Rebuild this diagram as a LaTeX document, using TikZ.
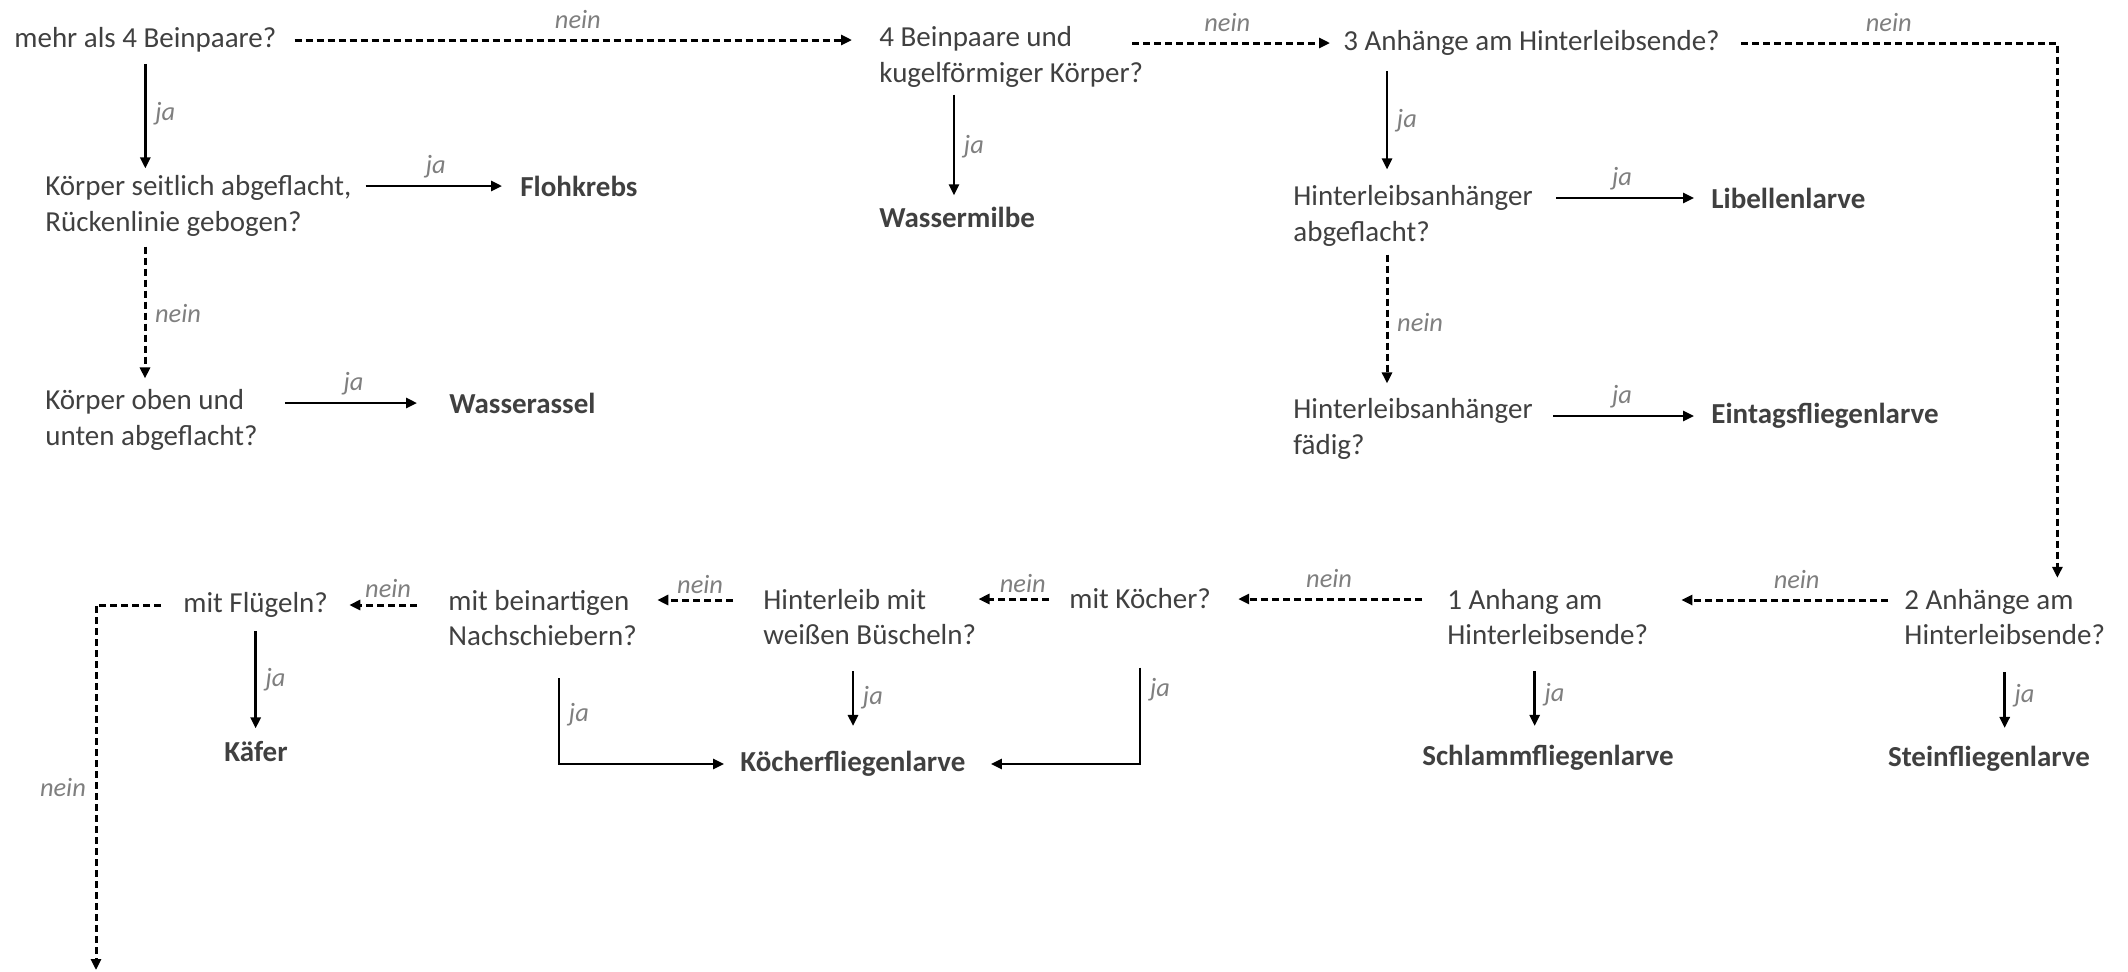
\documentclass[tikz,border=0pt]{standalone}
\usepackage{fontspec}
\setmainfont{Carlito}
\usetikzlibrary{arrows.meta}
\definecolor{textgrau}{HTML}{404040}
\definecolor{labelgrau}{HTML}{7F7F7F}
\tikzset{
% Two node styles for the key: questions and animals
frage/.style={anchor=west,align=left,inner sep=0,text=textgrau,font=\fontsize{14.5}{17.6}\selectfont},
tier/.style={inner sep=0,text=textgrau,font=\fontsize{14.5}{17.6}\selectfont\bfseries},
% Arrows for the answers
ja/.style={draw,line width=1.3pt,-{Triangle[length=5.5pt,width=5pt]}},
nein/.style={ja,line width=1.5pt,dash pattern=on 3.5pt off 2pt},
antwort/.style={text=labelgrau,font=\fontsize{13.2}{16}\selectfont\itshape}
}

\begin{document}
\begin{tikzpicture}[x=0.5pt,y=-0.5pt]
        \useasboundingbox (0,-3) rectangle (2128,968);
        % Questions
        \node[frage] (beine) at (14,37) {mehr als 4 Beinpaare?};
        \node[frage] (kugel) at (879,54) {4 Beinpaare und\\kugelförmiger Körper?};
        \node[frage] (drei) at (1343,40) {3 Anhänge am Hinterleibsende?};
        \node[frage] (seitlich) at (45,203) {Körper seitlich abgeflacht,\\Rückenlinie gebogen?};
        \node[frage] (oben) at (45,417) {Körper oben und\\unten abgeflacht?};
        \node[frage] (flach) at (1293,213) {Hinterleibsanhänger\\abgeflacht?};
        \node[frage] (faedig) at (1293,426) {Hinterleibsanhänger\\fädig?};
        \node[frage] (zwei) at (1904,614) {2 Anhänge am\\Hinterleibsende?};
        \node[frage] (eins) at (1447,614) {1 Anhang am\\Hinterleibsende?};
        \node[frage] (koecher) at (1069,596) {mit Köcher?};
        \node[frage] (bueschel) at (763,614) {Hinterleib mit\\weißen Büscheln?};
        \node[frage] (nach) at (448,615) {mit beinartigen\\Nachschiebern?};
        \node[frage] (fluegel) at (183,602) {mit Flügeln?};
        % Animals
        \node[tier,anchor=west] (floh) at (520,183) {Flohkrebs};
        \node[tier,anchor=west] (assel) at (449,400) {Wasserassel};
        \node[tier,anchor=west] (milbe) at (879,214) {Wassermilbe};
        \node[tier,anchor=west] (libelle) at (1711,195) {Libellenlarve};
        \node[tier,anchor=west] (eintag) at (1711,413) {Eintagsfliegenlarve};
        \node[tier] (kaefer) at (256,749) {Käfer};
        \node[tier] (koecherlarve) at (853,761) {Köcherfliegenlarve};
        \node[tier] (schlamm) at (1548,755) {Schlammfliegenlarve};
        \node[tier] (stein) at (1989,756) {Steinfliegenlarve};
        \coordinate (ende) at (96,967);
        % Top row
        \draw[nein,shorten <=9pt,shorten >=13.5pt] (beine.east) -- (beine.east -| kugel.west)
          node[antwort,midway,above=1.5pt]{nein};
        \draw[nein,shorten <=-5.5pt,shorten >=6.5pt] (kugel.east |- drei.west) -- (drei.west)
          node[antwort,pos=0.42,above=1.5pt]{nein};
        \draw[nein,shorten <=10.5pt,shorten >=5.5pt] (drei.east) -| ([xshift=-24pt]zwei.north east)
          node[antwort,pos=0.25,above=1.5pt]{nein};
        \draw[ja,shorten <=5.5pt,shorten >=3.5pt] (beine.south) -- (beine.south |- seitlich.north)
          node[antwort,midway,right=1pt]{ja};
        \draw[ja,shorten <=3.5pt,shorten >=5.5pt] ([xshift=37.5pt]kugel.south west) -- ([xshift=37.5pt]kugel.south west |- milbe.north)
          node[antwort,midway,right=1pt]{ja};
        \draw[ja,shorten <=7.5pt,shorten >=8pt] ([xshift=22pt]drei.south west) -- ([xshift=22pt]drei.south west |- flach.north)
          node[antwort,midway,right=1pt]{ja};
        % Left branch
        \draw[ja,shorten <=7pt,shorten >=9pt] (seitlich.east |- floh.west) -- (floh.west)
          node[antwort,midway,above=0pt]{ja};
        \draw[nein,shorten <=5pt,shorten >=5.5pt] ([xshift=50pt]seitlich.south west) -- ([xshift=50pt]oben.north west)
          node[antwort,midway,right=1pt]{nein};
        \draw[ja,shorten <=13.5pt,shorten >=16pt] (oben.east |- assel.west) -- (assel.west)
          node[antwort,midway,above=0pt]{ja};
        % Right branch
        \draw[ja,shorten <=11.5pt,shorten >=8.5pt] (flach.east |- libelle.west) -- (libelle.west)
          node[antwort,midway,above=0pt]{ja};
        \draw[nein,shorten <=4pt,shorten >=7.5pt] ([xshift=47pt]flach.south west) -- ([xshift=47pt]faedig.north west)
          node[antwort,midway,right=1pt]{nein};
        \draw[ja,shorten <=10pt,shorten >=8.5pt] (faedig.east |- eintag.west) -- (eintag.west)
          node[antwort,midway,above=0pt]{ja};
        % Bottom row
        \draw[nein,shorten <=8pt,shorten >=16.5pt] ([yshift=8.5pt]zwei.west) -- ([yshift=8.5pt]eins.east)
          node[antwort,pos=0.42,above=1.5pt]{nein};
        \draw[nein,shorten <=12.5pt,shorten >=13.5pt] (eins.west |- koecher.east) -- (koecher.east)
          node[antwort,midway,above=1.5pt]{nein};
        \draw[nein,shorten <=10pt,shorten >=1pt] (koecher.west) -- (koecher.west -| bueschel.east)
          node[antwort,midway,above=-1pt]{nein};
        \draw[nein,shorten <=15pt,shorten >=10pt] ([yshift=8.5pt]bueschel.west) -- ([yshift=8.5pt]bueschel.west -| nach.east)
          node[antwort,midway,above=-1pt]{nein};
        \draw[nein,shorten <=15.5pt,shorten >=10.5pt] (nach.west |- fluegel.east) -- (fluegel.east)
          node[antwort,midway,above=-0.5pt]{nein};
        \draw[nein,shorten <=11pt] (fluegel.west) -| (ende)
          node[antwort,pos=0.75,left=1pt]{nein};
        \draw[ja,shorten <=6.5pt,shorten >=6.5pt] (fluegel.south) -- (fluegel.south |- kaefer.north)
          node[antwort,midway,right=1pt]{ja};
        \draw[ja,shorten <=16pt,shorten >=8pt] ([xshift=55.5pt]nach.south west) |- (koecherlarve.west)
          node[antwort,pos=0.29,right=1pt]{ja};
        \draw[ja,shorten <=13pt,shorten >=12.5pt] (koecherlarve.north |- bueschel.south) -- (koecherlarve.north)
          node[antwort,midway,right=1pt]{ja};
        \draw[ja,shorten <=29pt,shorten >=12.5pt] (koecher.south) |- (koecherlarve.east)
          node[antwort,pos=0.26,right=1pt]{ja};
        \draw[ja,shorten <=13pt,shorten >=9.5pt] ([xshift=-6.5pt]eins.south) -- ([xshift=-6.5pt]eins.south |- schlamm.north)
          node[antwort,midway,right=1pt]{ja};
        \draw[ja,shorten <=13.5pt,shorten >=9pt] (zwei.south) -- (zwei.south |- stein.north)
          node[antwort,midway,right=1pt]{ja};
\end{tikzpicture}
\end{document}
